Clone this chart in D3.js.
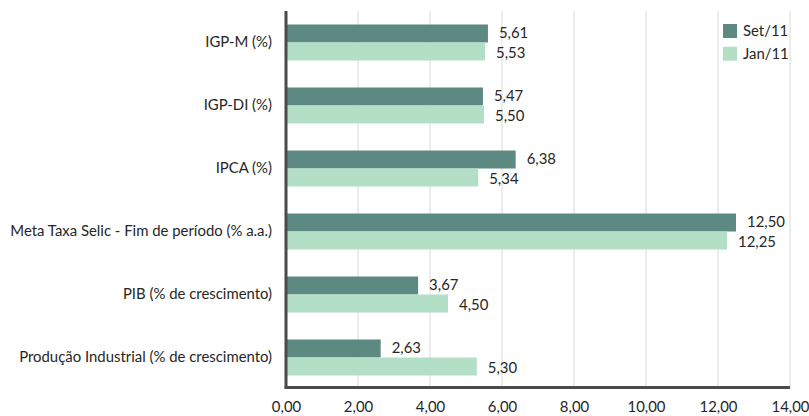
<!DOCTYPE html>
<html>
<head>
<meta charset="utf-8">
<script src="https://cdn.jsdelivr.net/npm/d3@7"></script>
<style>
  html, body { margin: 0; padding: 0; background: #ffffff; }
  svg text { font-family: Lato, "Open Sans", sans-serif; fill: #262626; }
</style>
</head>
<body>
<svg id="chart" width="809" height="416"></svg>
<script>
// Indicadores econômicos: expectativas de Set/11 e Jan/11
const categories = [
  "IGP-M (%)",
  "IGP-DI (%)",
  "IPCA (%)",
  "Meta Taxa Selic - Fim de período (% a.a.)",
  "PIB (% de crescimento)",
  "Produção Industrial (% de crescimento)"
];
const seriesNames = ["Set/11", "Jan/11"];
const setValues = [5.61, 5.47, 6.38, 12.50, 3.67, 2.63];
const janValues = [5.53, 5.50, 5.34, 12.25, 4.50, 5.30];
const tickValues = [0, 2, 4, 6, 8, 10, 12, 14];
const colors = ["#5c8a82", "#b4dfc7"];

const fontSize = 14.9;
const margin = { top: 11, left: 286, right: 19, bottom: 416 - 389 };
const width = 809 - margin.left - margin.right;
const height = 416 - margin.top - margin.bottom;

const fmt = v => d3.format(".2f")(v).replace(".", ",");

const svg = d3.select("#chart");
const g = svg.append("g").attr("transform", `translate(${margin.left},${margin.top})`);

const x = d3.scaleLinear().domain([0, 14]).range([0, width]);
const y = d3.scaleBand().domain(categories).range([0, height]).paddingInner(27 / 63).paddingOuter(13.5 / 63);
const inner = d3.scaleBand().domain(seriesNames).range([0, y.bandwidth()]);

// grid lines
g.append("g")
  .selectAll("line")
  .data(tickValues.slice(1))
  .join("line")
  .attr("x1", d => x(d)).attr("x2", d => x(d))
  .attr("y1", 0).attr("y2", height)
  .attr("stroke", "#d9d9d9").attr("stroke-width", 1);

// bars
const data = categories.map((c, i) => ({ cat: c, vals: [setValues[i], janValues[i]] }));
const groups = g.selectAll("g.cat").data(data).join("g")
  .attr("class", "cat")
  .attr("transform", d => `translate(0,${y(d.cat)})`);

groups.selectAll("rect")
  .data(d => d.vals.map((v, k) => ({ v, k })))
  .join("rect")
  .attr("x", 0)
  .attr("y", d => inner(seriesNames[d.k]))
  .attr("width", d => x(d.v))
  .attr("height", inner.bandwidth())
  .attr("fill", d => colors[d.k]);

groups.selectAll("text.val")
  .data(d => d.vals.map((v, k) => ({ v, k })))
  .join("text")
  .attr("class", "val")
  .attr("x", d => x(d.v) + 11)
  .attr("y", d => inner(seriesNames[d.k]) + inner.bandwidth() / 2 + (d.k === 0 ? -1 : 1))
  .attr("dy", "0.35em")
  .attr("font-size", fontSize)
  .text(d => fmt(d.v));

// category axis
const yAxis = g.append("g").call(d3.axisLeft(y).tickSize(0).tickPadding(14));
yAxis.select(".domain").remove();
yAxis.selectAll("text").attr("font-size", fontSize).style("font-family", "Lato, 'Open Sans', sans-serif").attr("fill", "#262626");

// value axis
const xAxis = g.append("g").attr("transform", `translate(0,${height})`)
  .call(d3.axisBottom(x).tickValues(tickValues).tickSize(0).tickPadding(12).tickFormat(fmt));
xAxis.select(".domain").remove();
xAxis.selectAll("text").attr("font-size", fontSize).style("font-family", "Lato, 'Open Sans', sans-serif").attr("fill", "#262626");

// axis lines
g.append("line").attr("x1", 0).attr("x2", 0).attr("y1", 0).attr("y2", height - 1.5)
  .attr("stroke", "#4a4a4a").attr("stroke-width", 3);
g.append("line").attr("x1", -1.5).attr("x2", width).attr("y1", height - 1.5).attr("y2", height - 1.5)
  .attr("stroke", "#4a4a4a").attr("stroke-width", 3);

// legend
const legend = svg.append("g").attr("transform", "translate(723,24)");
seriesNames.forEach((s, i) => {
  const row = legend.append("g").attr("transform", `translate(0,${i * 22.7})`);
  row.append("rect").attr("width", 14).attr("height", 14).attr("fill", colors[i]);
  row.append("text").attr("x", 20).attr("y", 7).attr("dy", "0.35em").attr("font-size", fontSize).text(s);
});
</script>
</body>
</html>
